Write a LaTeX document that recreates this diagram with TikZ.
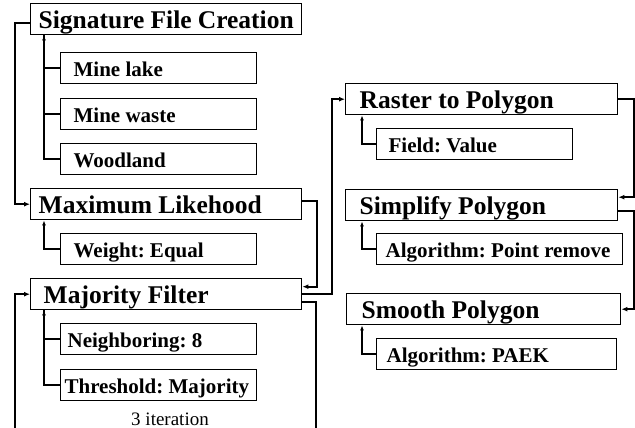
\documentclass[tikz,border=0pt]{standalone}
\usepackage{fontspec}
\setmainfont{Liberation Serif}
\usepackage{tikz}
\usetikzlibrary{arrows.meta,positioning}

\begin{document}
\begin{tikzpicture}[x=1pt, y=-1pt,
    every node/.append style={execute at begin node={\spaceskip=0pt\xspaceskip=0pt\frenchspacing\hyphenpenalty=10000}},
    stage/.style={rectangle, draw, line width=1.4pt, anchor=north west, align=left, inner xsep=8pt, inner ysep=0pt, text height=25pt, text depth=6pt, font=\fontsize{25.5}{28}\selectfont\bfseries},
    param/.style={rectangle, draw, line width=1.2pt, anchor=north west, align=left, inner xsep=12pt, inner ysep=0pt, text height=24pt, text depth=7pt, font=\fontsize{21}{24}\selectfont\bfseries},
    flow/.style={->, line width=2pt, >={Latex[length=6pt,width=5pt]}},
    branch/.style={line width=1.3pt, >={Latex[length=5pt,width=4pt]}}
]
\useasboundingbox (0,0) rectangle (635,428);

% Classification steps
\node[stage, text width=255pt] (sfc) at (30,3) {Signature File Creation};
\node[stage, text width=255pt] (ml) at (30,188) {Maximum Likehood};
\node[stage, text width=245pt, inner xsep=13pt] (mf) at (30,278) {Majority Filter};

% Parameters
\node[param, text width=170pt, inner xsep=13pt] (minelake) at (60,52) {Mine lake};
\node[param, text width=170pt, inner xsep=13pt] (minewaste) at (60,98) {Mine waste};
\node[param, text width=170pt, inner xsep=13pt] (woodland) at (60,143) {Woodland};
\node[param, text width=170pt, inner xsep=13pt] (weight) at (60,233) {Weight: Equal};
\node[param, text width=182pt, inner xsep=7pt] (neighbor) at (60,323) {Neighboring: 8};
\node[param, text width=188pt, inner xsep=4pt] (threshold) at (60,369) {Threshold: Majority};

% Vector steps
\node[stage, text width=244pt, inner xsep=14pt] (rtp) at (345,83) {Raster to Polygon};
\node[stage, text width=244pt, inner xsep=14pt] (simplify) at (345,189) {Simplify Polygon};
\node[stage, text width=244pt, inner xsep=15pt] (smooth) at (346,293) {Smooth Polygon};

\node[param, text width=172pt] (field) at (376,128) {Field: Value};
\node[param, text width=228pt, inner xsep=9pt] (pointremove) at (376,233) {Algorithm: Point remove};
\node[param, text width=220pt, inner xsep=10pt] (paek) at (376,338) {Algorithm: PAEK};

\node[anchor=base, font=\fontsize{19}{22}\selectfont] (iter) at (170,425) {3 iteration};

% Parameter links
\draw[branch, <-] ([xshift=14pt]sfc.south west) |- (woodland.west);
\draw[branch] ([xshift=14pt]sfc.south west) |- (minelake.west);
\draw[branch] ([xshift=14pt]sfc.south west) |- (minewaste.west);
\draw[branch, <-] ([xshift=14pt]ml.south west) |- (weight.west);
\draw[branch, <-] ([xshift=14pt]mf.south west) |- (threshold.west);
\draw[branch] ([xshift=14pt]mf.south west) |- (neighbor.west);
\draw[branch, <-] ([xshift=17pt]rtp.south west) |- (field.west);
\draw[branch, <-] ([xshift=17pt]simplify.south west) |- (pointremove.west);
\draw[branch, <-] ([xshift=16pt]smooth.south west) |- (paek.west);

% Workflow
\draw[flow] ([yshift=-3.5pt]sfc.west) -- ++(-15,0) |- (ml.west);
\draw[flow] ([yshift=3.5pt]ml.east) -- ++(15,0) |- ([yshift=7.5pt]mf.east);
\draw[flow] (mf.east) -- ++(30,0) |- (rtp.west);
\draw[flow] (rtp.east) -- ++(16,0) |- ([yshift=8pt]simplify.east);
\draw[flow] ([yshift=-6pt]simplify.east) -- ++(16,0) |- (smooth.east);

% Iteration loop
\coordinate (loopr) at (316,430);
\coordinate (loopl) at (15,430);
\draw[flow, -] ([yshift=-8pt]mf.east) -| (loopr);
\draw[flow] (loopl) |- (mf.west);

\end{tikzpicture}
\end{document}
